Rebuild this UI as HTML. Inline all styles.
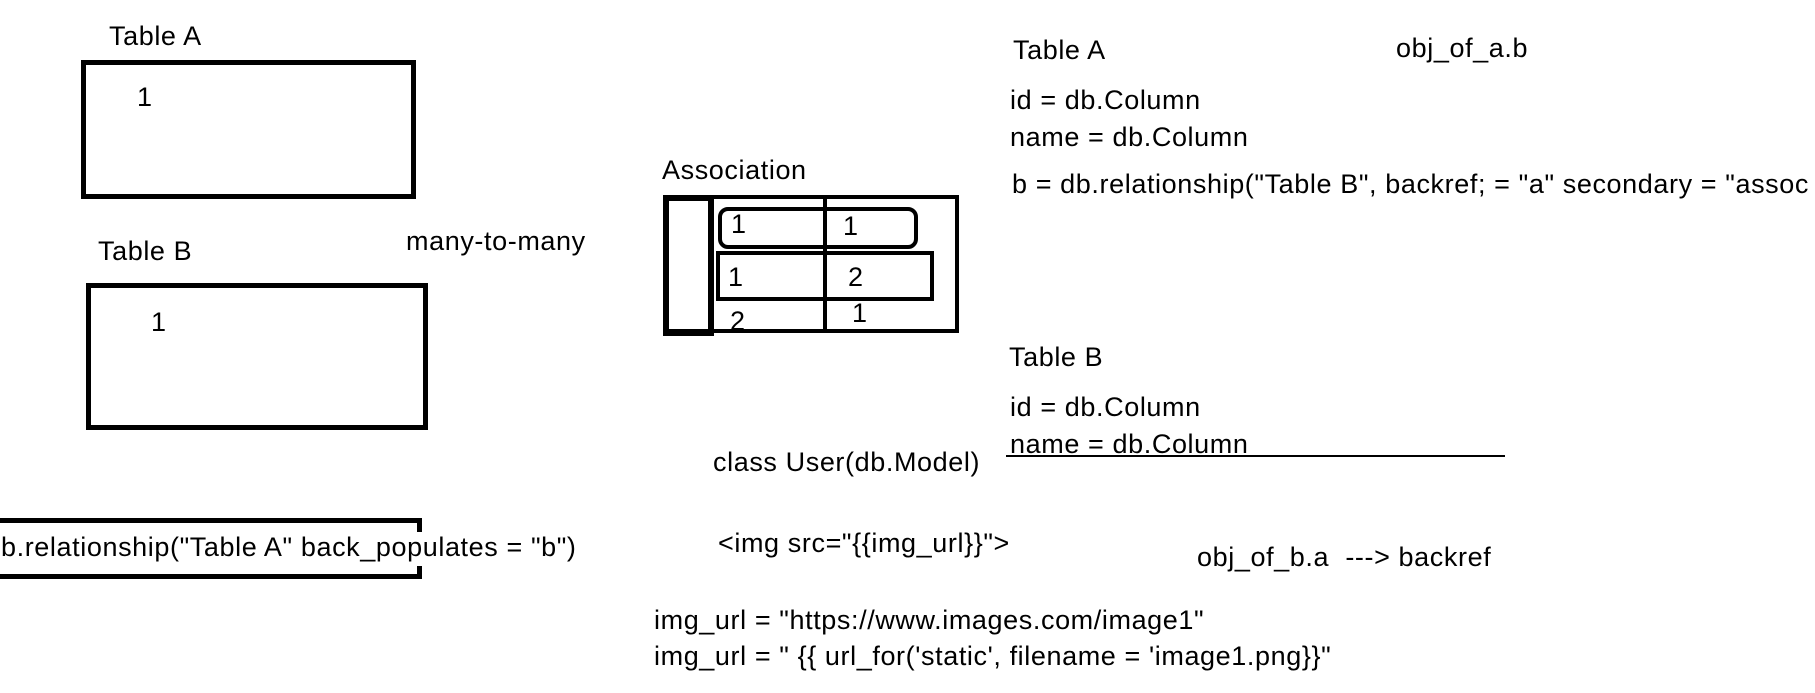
<!DOCTYPE html>
<html><head><meta charset="utf-8"><style>
body{margin:0;width:1815px;height:693px;background:#fff;position:relative;overflow:hidden;font-family:"Liberation Sans",sans-serif;color:#000}
.t{position:absolute;font-size:27px;line-height:26px;white-space:nowrap;letter-spacing:0.6px}
.b{position:absolute;border:5px solid #000;box-sizing:border-box}
</style></head><body>
<div class="t" style="left:109px;top:23px">Table A</div>
<div class="b" style="left:81px;top:60px;width:335px;height:139px"></div>
<div class="t" style="left:137px;top:84px">1</div>
<div class="t" style="left:98px;top:238px">Table B</div>
<div class="b" style="left:86px;top:283px;width:342px;height:147px"></div>
<div class="t" style="left:151px;top:309px">1</div>
<div class="t" style="left:406px;top:228px">many-to-many</div>

<div style="position:absolute;left:0;top:518px;width:422px;height:5px;background:#000"></div>
<div style="position:absolute;left:0;top:574px;width:422px;height:5px;background:#000"></div>
<div style="position:absolute;left:417px;top:518px;width:5px;height:14px;background:#000"></div>
<div style="position:absolute;left:417px;top:566px;width:5px;height:13px;background:#000"></div>
<div class="t" style="left:1px;top:534px">b.relationship("Table A" back_populates = "b")</div>

<div class="t" style="left:662px;top:157px">Association</div>
<div class="b" style="left:663px;top:195px;width:296px;height:138px;border-width:4px"></div>
<div class="b" style="left:663px;top:195px;width:51px;height:141px;border-width:6px"></div>
<div style="position:absolute;left:823px;top:197px;width:4px;height:135px;background:#000"></div>
<div class="b" style="left:718px;top:207px;width:200px;height:42px;border-radius:10px;border-width:4px"></div>
<div class="b" style="left:716px;top:251px;width:218px;height:50px;border-width:4px"></div>
<div class="t" style="left:731px;top:211px">1</div>
<div class="t" style="left:843px;top:213px">1</div>
<div class="t" style="left:728px;top:264px">1</div>
<div class="t" style="left:848px;top:264px">2</div>
<div class="t" style="left:730px;top:308px">2</div>
<div class="t" style="left:852px;top:300px">1</div>

<div class="t" style="left:1013px;top:37px">Table A</div>
<div class="t" style="left:1396px;top:35px">obj_of_a.b</div>
<div class="t" style="left:1010px;top:87px">id = db.Column</div>
<div class="t" style="left:1010px;top:124px">name = db.Column</div>
<div class="t" style="left:1012px;top:171px">b = db.relationship("Table B", backref; = "a" secondary = "assoc</div>
<div class="t" style="left:1009px;top:344px">Table B</div>
<div class="t" style="left:1010px;top:394px">id = db.Column</div>
<div class="t" style="left:1010px;top:431px">name = db.Column</div>
<div style="position:absolute;left:1006px;top:455px;width:499px;height:2px;background:#000"></div>
<div class="t" style="left:713px;top:449px">class User(db.Model)</div>
<div class="t" style="left:718px;top:530px">&lt;img src="{{img_url}}"&gt;</div>
<div class="t" style="left:1197px;top:544px">obj_of_b.a &nbsp;---&gt; backref</div>
<div class="t" style="left:654px;top:607px">img_url = "https://www.images.com/image1"</div>
<div class="t" style="left:654px;top:643px">img_url = " {{ url_for('static', filename = 'image1.png}}"</div>
</body></html>
